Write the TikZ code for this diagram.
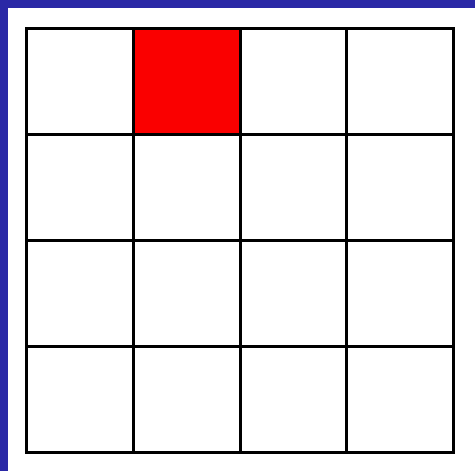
\documentclass[tikz,border=0pt]{standalone}
\usepackage{xcolor}
\usepackage{tikz}
\usetikzlibrary{positioning}

\definecolor{slideblue}{RGB}{42,40,166}
\definecolor{cellred}{RGB}{250,0,0}

\begin{document}
\begin{tikzpicture}[
      x=1pt, y=1pt,
      cell/.style={draw=black, line width=3pt, inner sep=0pt, outer sep=0pt,
                   minimum width=106.75pt, minimum height=106.1pt},
      hit/.style={cell, fill=cellred}
    ]
    % slide background
    \fill[white] (0,0) rectangle (475,471);
    \fill[slideblue] (0,463) rectangle (475,471);
    \fill[slideblue] (0,0) rectangle (8,471);
    \useasboundingbox (0,0) rectangle (475,471);

    % 4x4 board, row 0 on top
    \foreach \r in {0,...,3}
      \foreach \c in {0,...,3}
        \node[cell, anchor=north west] (c-\r-\c)
          at ({26.5+106.75*\c}, {442.5-106.1*\r}) {};

    \node[hit, anchor=north west] (c-0-1) at (133.25,442.5) {};
  \end{tikzpicture}
\end{document}
